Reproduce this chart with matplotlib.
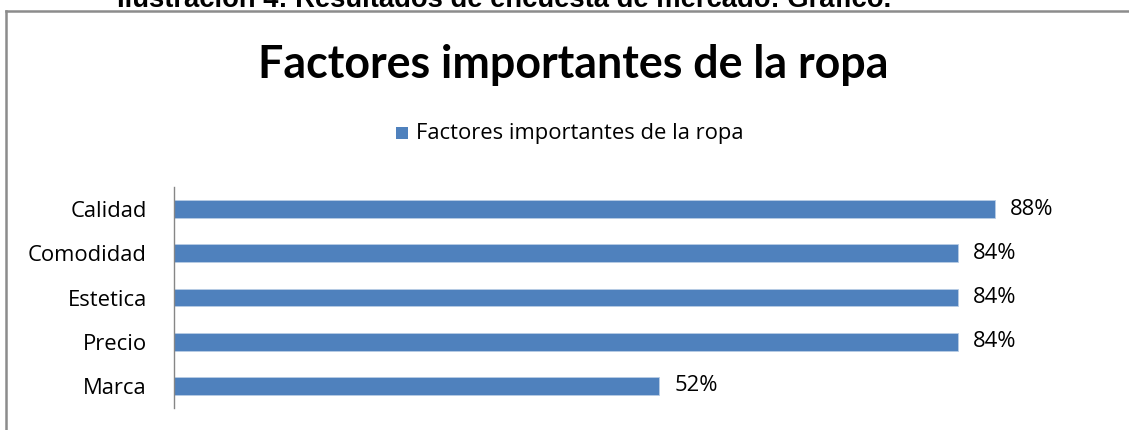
import matplotlib
matplotlib.use("Agg")
import matplotlib.pyplot as plt
from matplotlib.lines import Line2D
from matplotlib.patches import Rectangle

# Survey results: share of respondents who rated each factor as important
categories = ["Calidad", "Comodidad", "Estetica", "Precio", "Marca"]
values = [88, 84, 84, 84, 52]
series_name = "Factores importantes de la ropa"
chart_title = "Factores importantes de la ropa"
caption = "Ilustración 4: Resultados de encuesta de mercado: Gráfico."

W, H = 1129, 430
BAR_COLOR = "#4F81BD"
TITLE_FONT = "Lato"
BODY_FONT = "Open Sans"
BODY_SIZE = 15.8


def fx(px):
    return px / W


def fy(py):
    return 1 - py / H


fig = plt.figure(figsize=(W / 100, H / 100), dpi=100)

# document caption sitting just above the chart frame (partly cut off)
fig.text(fx(504), fy(7), caption, ha="center", va="baseline",
         fontsize=19.7, fontweight="bold", family="Liberation Sans", color="black")

# chart frame
frame_kw = dict(color="#8C8C8C", linewidth=1.8, transform=fig.transFigure)
fig.add_artist(Line2D([fx(5.5), fx(5.5)], [fy(10.5), fy(440)], **frame_kw))
fig.add_artist(Line2D([fx(5.5), fx(1135)], [fy(10.5), fy(10.5)], **frame_kw))

fig.text(fx(573), fy(78), chart_title, ha="center", va="baseline",
         fontsize=32.2, fontweight="bold", family=TITLE_FONT, color="black")

ax = fig.add_axes([fx(174), fy(408), fx(1107) - fx(174), fy(187) - fy(408)])
y = list(range(len(categories)))
bars = ax.barh(y, values, height=0.4, color=BAR_COLOR,
               edgecolor="#B9CDE5", linewidth=0.6, label=series_name)
ax.set_ylim(len(categories) - 0.5, -0.5)
ax.set_xlim(0, 100)
ax.set_yticks(y)
ax.set_yticklabels(categories, fontsize=BODY_SIZE, family=BODY_FONT, color="black")
ax.tick_params(axis="y", length=0, pad=19.5)
ax.set_xticks([])
for side in ("top", "right", "bottom"):
    ax.spines[side].set_visible(False)
ax.spines["left"].set_color("#868686")
ax.spines["left"].set_linewidth(1.0)

for bar, v in zip(bars, values):
    ax.annotate(f"{v}%", (bar.get_width(), bar.get_y() + bar.get_height() / 2),
                xytext=(11, 0), textcoords="offset points", ha="left", va="center",
                fontsize=BODY_SIZE, family=BODY_FONT, color="black")

# legend: small square swatch + series name
fig.add_artist(Rectangle((fx(396), fy(139)), fx(12), fy(127) - fy(139),
                         transform=fig.transFigure, facecolor=BAR_COLOR,
                         edgecolor="none"))
fig.text(fx(416), fy(133), series_name, ha="left", va="center",
         fontsize=BODY_SIZE, family=BODY_FONT, color="black")

fig.savefig("out.png", dpi=100)
